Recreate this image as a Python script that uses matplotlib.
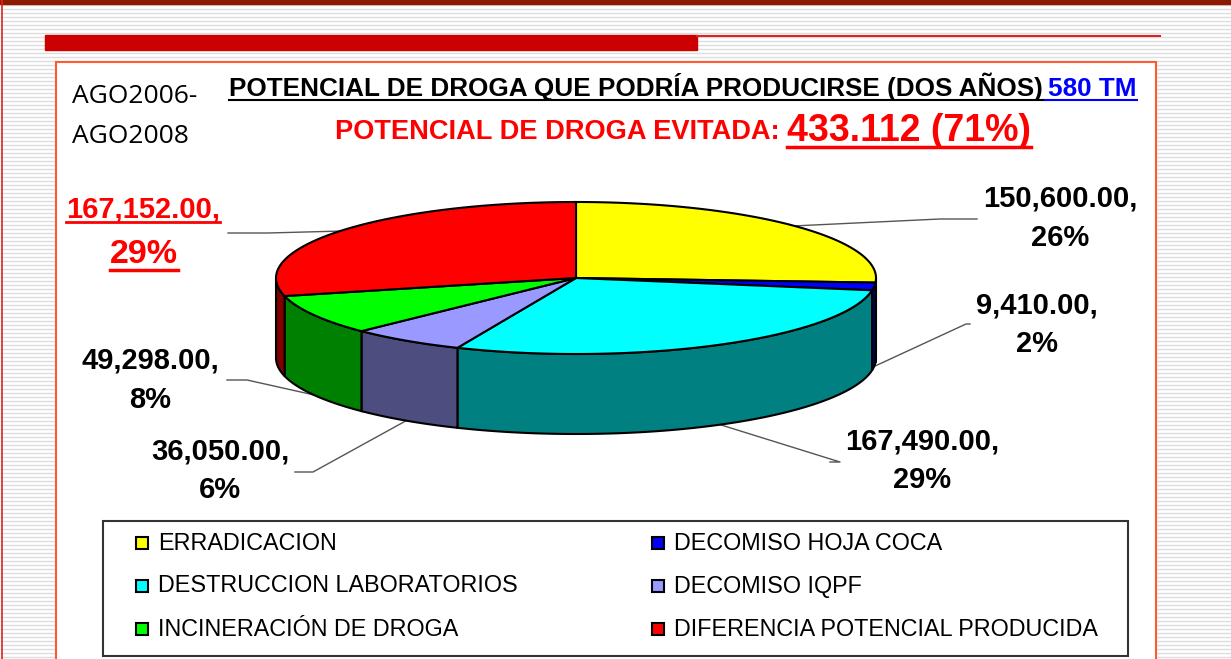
import numpy as np
import matplotlib.pyplot as plt
from matplotlib.patches import Polygon, Rectangle

categories = ['ERRADICACION', 'DECOMISO HOJA COCA', 'DESTRUCCION LABORATORIOS',
              'DECOMISO IQPF', 'INCINERACIÓN DE DROGA', 'DIFERENCIA POTENCIAL PRODUCIDA']
values = [150600.00, 9410.00, 167490.00, 36050.00, 49298.00, 167152.00]
top_colors = ['#FFFF00', '#0000FF', '#00FFFF', '#9999FF', '#00FF00', '#FF0000']
side_colors = ['#808000', '#000080', '#008080', '#4D4D80', '#008000', '#800000']

W, H = 1231, 659
plt.rcParams['font.family'] = ['Liberation Sans', 'DejaVu Sans']
fig = plt.figure(figsize=(W / 100, H / 100), dpi=100)
ax = fig.add_axes([0, 0, 1, 1])
ax.set_xlim(0, W)
ax.set_ylim(H, 0)
ax.axis('off')

# slide background
ax.hlines(np.arange(1, H, 4), 0, W, color='#DDDDDD', lw=1, zorder=0)
ax.add_patch(Rectangle((0, 0), W, 4, color='#8B1A00', zorder=1))
ax.plot([2, 2], [0, H], color='#E02020', lw=1.2, zorder=1)
ax.add_patch(Rectangle((45, 35), 652, 15, color='#CC0000', zorder=1))
ax.plot([697, 1160], [35.5, 35.5], color='#DD2222', lw=1.5, zorder=1)
ax.add_patch(Rectangle((56, 62), 1100, 620, fc='white', ec='#FF5A30', lw=1.5, zorder=1))

# 3d pie
cx, cy, rx, ry, depth = 576, 278, 300, 76, 80


def ell(t):
    t = np.radians(t)
    return cx + rx * np.sin(t), cy - ry * np.cos(t)


total = sum(values)
bounds = np.concatenate([[0], np.cumsum(values)]) / total * 360
for i in range(len(values)):
    a0, a1 = bounds[i], bounds[i + 1]
    s0, s1 = max(a0, 90), min(a1, 270)
    if s1 > s0:
        x, y = ell(np.linspace(s0, s1, 100))
        pts = np.column_stack([np.r_[x, x[::-1]], np.r_[y, y[::-1] + depth]])
        ax.add_patch(Polygon(pts, fc=side_colors[i], ec='black', lw=1.5, zorder=3))
    x, y = ell(np.linspace(a0, a1, 200))
    pts = np.column_stack([np.r_[cx, x], np.r_[cy, y]])
    ax.add_patch(Polygon(pts, fc=top_colors[i], ec='black', lw=1.5, zorder=4))

# data labels with leader lines
label_pos = [(1060, 218), (1037, 325), (922, 461), (220, 471), (150, 380), None]
leader_start = [[(977, 219), (940, 219)], [(970, 324), (966, 324)], [(830, 462), (840, 462)],
                [(295, 472), (313, 472)], [(227, 380), (247, 380)], [(228, 233), (268, 233)]]
for i, v in enumerate(values):
    mid = (bounds[i] + bounds[i + 1]) / 2
    mx, my = ell(mid)
    if 90 < mid < 270:
        my = my + depth
    path = leader_start[i] + [(mx, my)]
    ax.plot([p[0] for p in path], [p[1] for p in path], color='#555555', lw=1, zorder=2)
    if label_pos[i] is not None:
        ax.text(label_pos[i][0], label_pos[i][1], f'{v:,.2f},\n{v / total:.0%}', ha='center', va='center',
                fontsize=21, fontweight='bold', linespacing=1.5, zorder=5)

fig.canvas.draw()
renderer = fig.canvas.get_renderer()


def underline(t, y, color, lw):
    bb = t.get_window_extent(renderer)
    ax.plot([bb.x0, bb.x1], [y, y], color=color, lw=lw, zorder=6)
    return bb


red_val = values[-1]
t = ax.text(143, 217, f'{red_val:,.2f},', ha='center', va='baseline', fontsize=21,
            fontweight='bold', color='#FF0000', zorder=5)
underline(t, 222, '#FF0000', 2)
t = ax.text(144, 263, f'{red_val / total:.0%}', ha='center', va='baseline', fontsize=24.5,
            fontweight='bold', color='#FF0000', zorder=5)
underline(t, 270, '#FF0000', 2.5)

# titles
ax.text(72, 103, 'AGO2006-', fontsize=19, family='Open Sans', va='baseline', zorder=5)
ax.text(72, 143, 'AGO2008', fontsize=19, family='Open Sans', va='baseline', zorder=5)
t1 = ax.text(229, 96, 'POTENCIAL DE DROGA QUE PODRÍA PRODUCIRSE (DOS AÑOS)', fontsize=18.8,
             fontweight='bold', va='baseline', zorder=5)
t2 = ax.text(1137, 96, '580 TM', fontsize=18.8, fontweight='bold', color='#0000FF',
             ha='right', va='baseline', zorder=5)
b2 = t2.get_window_extent(renderer)
b1 = t1.get_window_extent(renderer)
ax.plot([b1.x0, b2.x0 - 4], [100, 100], color='black', lw=1.5, zorder=6)
ax.plot([b2.x0 - 4, b2.x1], [100, 100], color='#0000FF', lw=1.5, zorder=6)
ax.text(780, 139, 'POTENCIAL DE DROGA EVITADA:', fontsize=19.6, fontweight='bold', color='#FF0000',
        ha='right', va='baseline', zorder=5)
t3 = ax.text(787, 141, '433.112 (71%)', fontsize=27, fontweight='bold', color='#FF0000',
             ha='left', va='baseline', zorder=5)
underline(t3, 147, '#FF0000', 2.5)

# legend
ax.add_patch(Rectangle((103, 521), 1025, 135, fc='white', ec='#333333', lw=1.5, zorder=5))
order = [0, 2, 4, 1, 3, 5]
for k, i in enumerate(order):
    col, row = divmod(k, 3)
    mx = 136 if col == 0 else 652
    ry0 = 543 + row * 43
    ax.add_patch(Rectangle((mx, ry0 - 6), 12, 12, fc=top_colors[i], ec='black', lw=1.5, zorder=6))
    ax.text(mx + 22, ry0, categories[i], fontsize=16.8, va='center', ha='left', zorder=6)

fig.savefig('out.png', dpi=100)
